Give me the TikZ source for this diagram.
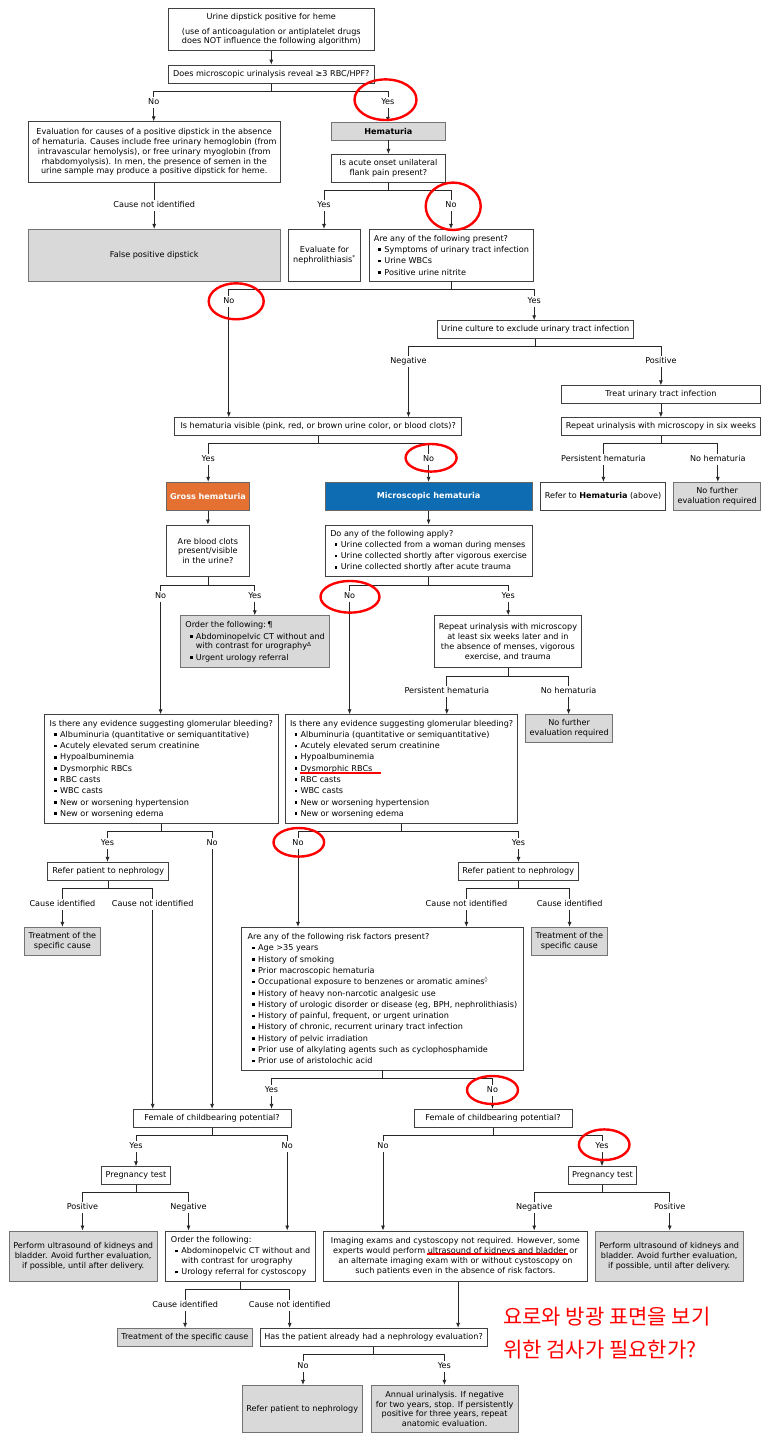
\documentclass[tikz,border=0pt]{standalone}
\usepackage{fontspec}
\setmainfont{DejaVu Sans}
\newfontfamily\kor{Noto Sans CJK KR}
\usepackage{xcolor}
\usepackage{tikz}
\usetikzlibrary{arrows.meta, positioning}

\definecolor{boxgrey}{RGB}{217,217,217}
\definecolor{grossor}{RGB}{228,112,50}
\definecolor{microbl}{RGB}{14,108,178}
\newcommand{\txtfont}{\fontsize{8.1}{9.8}\selectfont}
\newcommand{\lstfont}{\fontsize{8.1}{11.3}\selectfont}
\newcommand{\itm}{\hspace*{4.5pt}\rule[1.4pt]{2.7pt}{2.7pt}\hspace{3.3pt}}
\newcommand{\cont}{\hspace*{10.5pt}}

\begin{document}
\begin{tikzpicture}[
    x=1pt, y=-1pt,
    box/.style={rectangle, draw=black!75, line width=0.8pt, fill=white, align=center, inner sep=1pt, font=\txtfont},
    grey/.style={box, fill=boxgrey, draw=black!55},
    list/.style={box, align=left, inner sep=3.5pt, font=\lstfont},
    glist/.style={list, fill=boxgrey, draw=black!55},
    sz/.style 2 args={minimum width=#1pt, minimum height=#2pt},
    lab/.style={inner sep=1.5pt, text height=6pt, text depth=1.6pt, font=\txtfont},
    line/.style={line width=0.8pt, black!85},
    arrow/.style={-{Latex[length=5pt, width=4pt]}, line width=0.8pt, black!85},
    ring/.style={draw=red, line width=2.4pt},
    uline/.style={draw=red, line width=2pt}
]
    \useasboundingbox (0,0) rectangle (773,1442);

    % Dipstick
    \node[box, sz={205.7}{42.4}] (top) at (271.3,29.5) {Urine dipstick positive for heme\\[4.8pt](use of anticoagulation or antiplatelet drugs\\does NOT influence the following algorithm)};
    \node[box, sz={205.7}{18.3}] (rbc) at (271.3,74.2) {Does microscopic urinalysis reveal ≥3 RBC/HPF?};
    \node[lab] (no1) at (153.7,102.7) {No};
    \node[lab] (yes1) at (387.9,102.7) {Yes};
    \node[box, sz={252.4}{60.6}] (evl) at (154.2,152) {Evaluation for causes of a positive dipstick in the absence\\of hematuria. Causes include free urinary hemoglobin (from\\intravascular hemolysis), or free urinary myoglobin (from\\rhabdomyolysis). In men, the presence of semen in the\\urine sample may produce a positive dipstick for heme.};
    \node[grey, font=\txtfont\bfseries, sz={114.8}{17.7}] (hem) at (388.4,131.2) {Hematuria};
    \node[box, sz={114.8}{28}] (flank) at (388.4,168.3) {Is acute onset unilateral\\flank pain present?};
    \node[lab] (cni1) at (154.2,205.7) {Cause not identified};
    \node[grey, sz={252.4}{51.7}] (fpos) at (154.2,255.2) {False positive dipstick};
    \node[lab] (yes2) at (324,205.7) {Yes};
    \node[lab] (no2) at (451,205.7) {No};
    \node[box, sz={72.7}{51.7}] (neph) at (324.5,255.2) {Evaluate for\\nephrolithiasis\textsuperscript{*}};
    \node[list, sz={164.5}{51.7}] (anyq) at (451.5,255.2) {Are any of the following present?\\\itm Symptoms of urinary tract infection\\\itm Urine WBCs\\\itm Positive urine nitrite};

    % Urinary tract infection
    \node[lab] (no3) at (228.8,301) {No};
    \node[lab] (yes3) at (534.2,301) {Yes};
    \node[box, sz={196.4}{17.6}] (cult) at (535.2,329.5) {Urine culture to exclude urinary tract infection};
    \node[lab] (neg1) at (408.5,361.7) {Negative};
    \node[lab] (pos1) at (660.9,361.7) {Positive};
    \node[box, sz={199.4}{17.6}] (uti) at (660.9,394.5) {Treat urinary tract infection};
    \node[box, sz={199.4}{18}] (rpt6) at (660.9,426.7) {Repeat urinalysis with microscopy in six weeks};
    \node[box, sz={286.7}{18}] (vis) at (318.2,426.7) {Is hematuria visible (pink, red, or brown urine color, or blood clots)?};
    \node[lab] (yes4) at (208.2,459) {Yes};
    \node[lab] (no4) at (428.6,459) {No};
    \node[lab] (ph1) at (603.4,459) {Persistent hematuria};
    \node[lab] (nh1) at (717.8,459) {No hematuria};

    % Gross and microscopic
    \node[box, fill=grossor, draw=black!60, text=white, font=\txtfont\bfseries, sz={83}{28}] (gross) at (207.9,496.3) {Gross hematuria};
    \node[box, fill=microbl, draw=black!60, text=white, font=\txtfont\bfseries, sz={207.2}{28}] (micro) at (428.6,496.3) {Microscopic hematuria};
    \node[box, sz={125.7}{28}] (refh) at (603,496.3) {Refer to \textbf{Hematuria} (above)};
    \node[grey, sz={86.9}{28}] (nf1) at (717.1,496.3) {No further\\evaluation required};
    \node[box, sz={83}{51.7}] (clots) at (207.9,550.8) {Are blood clots\\present/visible\\in the urine?};
    \node[list, sz={207.2}{51.7}] (doany) at (428.6,550.8) {Do any of the following apply?\\\itm Urine collected from a woman during menses\\\itm Urine collected shortly after vigorous exercise\\\itm Urine collected shortly after acute trauma};
    \node[lab] (no5) at (160.6,596.3) {No};
    \node[lab] (yes5) at (254.8,596.3) {Yes};
    \node[lab] (no6) at (349.6,596.3) {No};
    \node[lab] (yes6) at (508.2,596.3) {Yes};
    \node[glist, sz={148.8}{52}] (ord1) at (255.1,641.7) {Order the following:\,¶\\\itm Abdominopelvic CT without and\\[-1.5pt]\cont with contrast for urography\textsuperscript{Δ}\\\itm Urgent urology referral};
    \node[box, sz={146.8}{52}] (rpt2) at (507.9,641.7) {Repeat urinalysis with microscopy\\at least six weeks later and in\\the absence of menses, vigorous\\exercise, and trauma};
    \node[lab] (ph2) at (446.8,691.3) {Persistent hematuria};
    \node[lab] (nh2) at (568.6,691.3) {No hematuria};
    \node[grey, sz={87.4}{27.6}] (nf2) at (569.1,728.5) {No further\\evaluation required};

    % Glomerular bleeding
    \node[list, sz={233.2}{108.6}] (glo1) at (161.3,769) {Is there any evidence suggesting glomerular bleeding?\\\itm Albuminuria (quantitative or semiquantitative)\\\itm Acutely elevated serum creatinine\\\itm Hypoalbuminemia\\\itm Dysmorphic RBCs\\\itm RBC casts\\\itm WBC casts\\\itm New or worsening hypertension\\\itm New or worsening edema};
    \node[list, sz={231.7}{108.6}] (glo2) at (401.6,769) {Is there any evidence suggesting glomerular bleeding?\\\itm Albuminuria (quantitative or semiquantitative)\\\itm Acutely elevated serum creatinine\\\itm Hypoalbuminemia\\\itm Dysmorphic RBCs\\\itm RBC casts\\\itm WBC casts\\\itm New or worsening hypertension\\\itm New or worsening edema};
    \node[lab] (yes7) at (107.5,843.3) {Yes};
    \node[lab] (no7) at (212.1,843.3) {No};
    \node[lab] (no8) at (298,843.3) {No};
    \node[lab] (yes8) at (518.5,843.3) {Yes};
    \node[box, sz={121.3}{18.4}] (ref1) at (108.2,871.5) {Refer patient to nephrology};
    \node[box, sz={120.3}{18.4}] (ref2) at (518.2,871.5) {Refer patient to nephrology};
    \node[lab] (ci1) at (62.4,904) {Cause identified};
    \node[lab] (cni2) at (152.7,904) {Cause not identified};
    \node[lab] (cni3) at (466.4,904) {Cause not identified};
    \node[lab] (ci2) at (569.6,904) {Cause identified};
    \node[grey, sz={76.6}{28}] (trt1) at (62.4,941.3) {Treatment of the\\specific cause};
    \node[grey, sz={76.1}{28}] (trt2) at (569.3,941.3) {Treatment of the\\specific cause};

    % Risk factors
    \node[list, sz={281.8}{142.7}] (risk) at (382.5,998.7) {Are any of the following risk factors present?\\\itm Age >35 years\\\itm History of smoking\\\itm Prior macroscopic hematuria\\\itm Occupational exposure to benzenes or aromatic amines\textsuperscript{◊}\\\itm History of heavy non-narcotic analgesic use\\\itm History of urologic disorder or disease (eg, BPH, nephrolithiasis)\\\itm History of painful, frequent, or urgent urination\\\itm History of chronic, recurrent urinary tract infection\\\itm History of pelvic irradiation\\\itm Prior use of alkylating agents such as cyclophosphamide\\\itm Prior use of aristolochic acid};
    \node[lab] (yes9) at (271.5,1090) {Yes};
    \node[lab] (no9) at (492.5,1090) {No};

    % Childbearing potential
    \node[box, sz={158.2}{18}] (fem1) at (212.1,1118.3) {Female of childbearing potential?};
    \node[box, sz={158.1}{18}] (fem2) at (493,1118.3) {Female of childbearing potential?};
    \node[lab] (yes10) at (136,1146.7) {Yes};
    \node[lab] (no10) at (287.2,1146.7) {No};
    \node[lab] (no11) at (383,1146.7) {No};
    \node[lab] (yes11) at (602,1146.7) {Yes};
    \node[box, sz={68.8}{17.6}] (preg1) at (136,1175.5) {Pregnancy test};
    \node[box, sz={68.7}{17.6}] (preg2) at (602.4,1175.5) {Pregnancy test};
    \node[lab] (pos2) at (82.5,1207.7) {Positive};
    \node[lab] (neg2) at (188.5,1207.7) {Negative};
    \node[lab] (neg3) at (534.2,1207.7) {Negative};
    \node[lab] (pos3) at (669.7,1207.7) {Positive};
    \node[grey, sz={147.8}{50.7}] (perf1) at (83.2,1256.3) {Perform ultrasound of kidneys and\\bladder. Avoid further evaluation,\\if possible, until after delivery.};
    \node[list, sz={150.2}{50.7}] (ord2) at (240.6,1256.3) {Order the following:\\\itm Abdominopelvic CT without and\\[-1.5pt]\cont with contrast for urography\\\itm Urology referral for cystoscopy};
    \node[box, sz={263.6}{50.7}] (img) at (455.4,1256.3) {Imaging exams and cystoscopy not required. However, some\\experts would perform ultrasound of kidneys and bladder or\\an alternate imaging exam with or without cystoscopy on\\such patients even in the absence of risk factors.};
    \node[grey, sz={148.3}{50.7}] (perf2) at (669.2,1256.3) {Perform ultrasound of kidneys and\\bladder. Avoid further evaluation,\\if possible, until after delivery.};

    % Nephrology evaluation
    \node[lab] (ci3) at (185.1,1305) {Cause identified};
    \node[lab] (cni4) at (289.7,1305) {Cause not identified};
    \node[grey, sz={135.1}{18.4}] (trt3) at (184.8,1337.5) {Treatment of the specific cause};
    \node[box, sz={226.9}{18.4}] (nev) at (373.6,1337.5) {Has the patient already had a nephrology evaluation?};
    \node[lab] (no12) at (303,1366) {No};
    \node[lab] (yes12) at (444.4,1366) {Yes};
    \node[grey, sz={120.3}{47.4}] (ref3) at (302.2,1409) {Refer patient to nephrology};
    \node[grey, sz={146.8}{47.4}] (annual) at (444.6,1409) {Annual urinalysis. If negative\\for two years, stop. If persistently\\positive for three years, repeat\\anatomic evaluation.};

    % Note
    \node[anchor=west, inner sep=0pt, text=red, font=\kor\fontsize{21}{21}\selectfont] (kr1) at (503,1316.7) {요로와 방광 표면을 보기};
    \node[anchor=west, inner sep=0pt, text=red, font=\kor\fontsize{21}{21}\selectfont] (kr2) at (503,1350) {위한 검사가 필요한가?};

    % Branch points
    \path (rbc.south) ++(0,7.7) coordinate (s1);
    \path (flank.south) ++(0,7.7) coordinate (s2);
    \path (anyq.south) ++(0,7.7) coordinate (s3);
    \path (cult.south) ++(0,7.7) coordinate (s4);
    \path (vis.south) ++(0,7.6) coordinate (s5);
    \path (rpt6.south) ++(0,7.6) coordinate (s6);
    \path (clots.south) ++(0,8.3) coordinate (s7);
    \path (doany.south) ++(0,8.3) coordinate (s8);
    \path (rpt2.south) ++(0,8) coordinate (s9);
    \path (glo1.south) ++(0,7.7) coordinate (s10);
    \path (glo2.south) ++(0,7.7) coordinate (s11);
    \path (ref1.south) ++(0,7.6) coordinate (s12);
    \path (ref2.south) ++(0,7.6) coordinate (s13);
    \path (risk.south) ++(0,8.3) coordinate (s14);
    \path (fem1.south) ++(0,8) coordinate (s15);
    \path (fem2.south) ++(0,8) coordinate (s16);
    \path (preg1.south) ++(0,8) coordinate (s17);
    \path (preg2.south) ++(0,8) coordinate (s18);
    \path (ord2.south) ++(0,7.6) coordinate (s19);
    \path (nev.south) ++(0,7.6) coordinate (s20);

    \draw[arrow] (top) -- (rbc);
    \draw[line] (rbc) -- (s1) (no1) |- (s1) -| (yes1);
    \draw[arrow] (no1) -- (no1 |- evl.north);
    \draw[arrow] (yes1) -- (yes1 |- hem.north);
    \draw[line] (evl) -- (cni1);
    \draw[arrow] (cni1) -- (fpos);
    \draw[arrow] (hem) -- (flank);
    \draw[line] (flank) -- (s2) (yes2) |- (s2) -| (no2);
    \draw[arrow] (yes2) -- (yes2 |- neph.north);
    \draw[arrow] (no2) -- (no2 |- anyq.north);
    \draw[line] (anyq) -- (s3) (no3) |- (s3) -| (yes3);
    \draw[arrow] (no3) -- (no3 |- vis.north);
    \draw[arrow] (yes3) -- (yes3 |- cult.north);
    \draw[line] (cult) -- (s4) (neg1) |- (s4) -| (pos1);
    \draw[arrow] (neg1) -- (neg1 |- vis.north);
    \draw[arrow] (pos1) -- (pos1 |- uti.north);
    \draw[arrow] (uti) -- (rpt6);
    \draw[line] (vis) -- (s5) (yes4) |- (s5) -| (no4);
    \draw[arrow] (yes4) -- (yes4 |- gross.north);
    \draw[arrow] (no4) -- (no4 |- micro.north);
    \draw[line] (rpt6) -- (s6) (ph1) |- (s6) -| (nh1);
    \draw[arrow] (ph1) -- (ph1 |- refh.north);
    \draw[arrow] (nh1) -- (nh1 |- nf1.north);
    \draw[arrow] (gross) -- (clots);
    \draw[arrow] (micro) -- (doany);
    \draw[line] (clots) -- (s7) (no5) |- (s7) -| (yes5);
    \draw[arrow] (no5) -- (no5 |- glo1.north);
    \draw[arrow] (yes5) -- (yes5 |- ord1.north);
    \draw[line] (doany) -- (s8) (no6) |- (s8) -| (yes6);
    \draw[arrow] (no6) -- (no6 |- glo2.north);
    \draw[arrow] (yes6) -- (yes6 |- rpt2.north);
    \draw[line] (rpt2) -- (s9) (ph2) |- (s9) -| (nh2);
    \draw[arrow] (ph2) -- (ph2 |- glo2.north);
    \draw[arrow] (nh2) -- (nh2 |- nf2.north);
    \draw[line] (glo1) -- (s10) (yes7) |- (s10) -| (no7);
    \draw[arrow] (yes7) -- (yes7 |- ref1.north);
    \draw[arrow] (no7) -- (no7 |- fem1.north);
    \draw[line] (glo2) -- (s11) (no8) |- (s11) -| (yes8);
    \draw[arrow] (no8) -- (no8 |- risk.north);
    \draw[arrow] (yes8) -- (yes8 |- ref2.north);
    \draw[line] (ref1) -- (s12) (ci1) |- (s12) -| (cni2);
    \draw[arrow] (ci1) -- (ci1 |- trt1.north);
    \draw[arrow] (cni2) -- (cni2 |- fem1.north);
    \draw[line] (ref2) -- (s13) (cni3) |- (s13) -| (ci2);
    \draw[arrow] (cni3) -- (cni3 |- risk.north);
    \draw[arrow] (ci2) -- (ci2 |- trt2.north);
    \draw[line] (risk) -- (s14) (yes9) |- (s14) -| (no9);
    \draw[arrow] (yes9) -- (yes9 |- fem1.north);
    \draw[arrow] (no9) -- (no9 |- fem2.north);
    \draw[line] (fem1) -- (s15) (yes10) |- (s15) -| (no10);
    \draw[arrow] (yes10) -- (yes10 |- preg1.north);
    \draw[arrow] (no10) -- (no10 |- ord2.north);
    \draw[line] (fem2) -- (s16) (no11) |- (s16) -| (yes11);
    \draw[arrow] (no11) -- (no11 |- img.north);
    \draw[arrow] (yes11) -- (yes11 |- preg2.north);
    \draw[line] (preg1) -- (s17) (pos2) |- (s17) -| (neg2);
    \draw[arrow] (pos2) -- (pos2 |- perf1.north);
    \draw[arrow] (neg2) -- (neg2 |- ord2.north);
    \draw[line] (preg2) -- (s18) (neg3) |- (s18) -| (pos3);
    \draw[arrow] (neg3) -- (neg3 |- img.north);
    \draw[arrow] (pos3) -- (pos3 |- perf2.north);
    \draw[line] (ord2) -- (s19) (ci3) |- (s19) -| (cni4);
    \draw[arrow] (ci3) -- (ci3 |- trt3.north);
    \draw[arrow] (cni4) -- (cni4 |- nev.north);
    \draw[arrow] ([xshift=2.7pt]img.south) -- ([xshift=2.7pt]img.south |- nev.north);
    \draw[line] (nev) -- (s20) (no12) |- (s20) -| (yes12);
    \draw[arrow] (no12) -- (no12 |- ref3.north);
    \draw[arrow] (yes12) -- (yes12 |- annual.north);

    % Red marks
    \draw[ring] (385.5,99.7) ellipse (31 and 20.3);
    \draw[ring] (453.2,206.3) ellipse (27.5 and 23.7);
    \draw[ring] (236.2,301.3) ellipse (27.5 and 18);
    \draw[ring] (431.1,457.8) ellipse (25.5 and 13.8);
    \draw[ring] (350,596.8) ellipse (29.5 and 15.8);
    \draw[ring] (298.8,842.3) ellipse (25.3 and 14.3);
    \draw[ring] (492.5,1090) ellipse (25.5 and 14);
    \draw[ring] (604.2,1144.7) ellipse (25.3 and 15.3);
    \draw[uline] (299.5,773.3) -- (380.5,773.3);
    \draw[uline] (427.2,1254) -- (568,1254);
\end{tikzpicture}
\end{document}
